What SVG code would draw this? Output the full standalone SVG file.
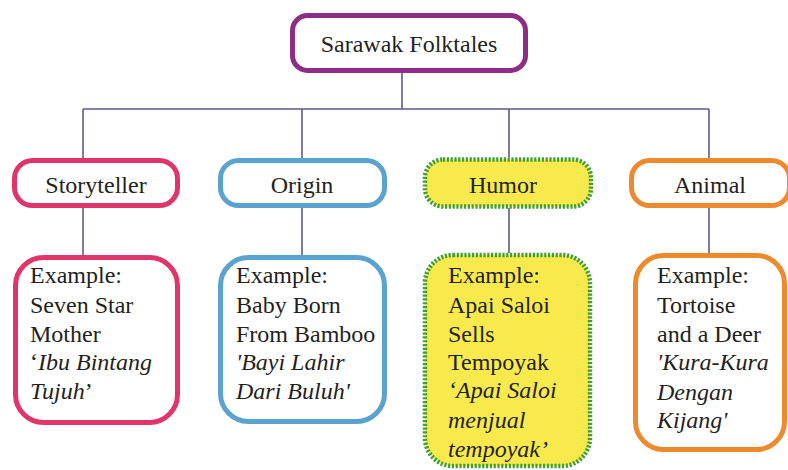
<svg xmlns="http://www.w3.org/2000/svg" width="788" height="470" viewBox="0 0 788 470" font-family="'Liberation Serif', Tinos, 'DejaVu Serif', 'Times New Roman', serif">
<style>
text{font-family:'Liberation Serif',Tinos,'DejaVu Serif','Times New Roman',serif;font-size:24px;fill:#231f20}
.c{text-anchor:middle}
.i{font-style:italic}
.box{fill:#fff;stroke-width:5}
.pink{stroke:#e0356b}
.blue{stroke:#5aa3d0}
.orange{stroke:#ee8a2e}
.humor{fill:#f8ea4c;stroke:#3f9e3a;stroke-width:4.5;stroke-dasharray:2.2 1.6}
.conn{fill:none;stroke:#5e5a8e;stroke-width:1.6}
</style>
<rect width="788" height="470" fill="#fff"/>
<g id="connectors">
<path class="conn" d="M402 72V109M83 109H709M83 109V158M302 109V158M509 109V157M709 109V158M83 208V255M302 208V255M509 208V253M709 208V253"/>
</g>
<g id="root">
<rect x="292.5" y="15.5" width="233" height="55" rx="15" fill="#fff" stroke="#8e2c86" stroke-width="5"/>
<text class="c" x="409" y="52">Sarawak Folktales</text>
</g>
<g id="storyteller">
<rect class="box pink" x="14.5" y="160.5" width="163" height="45" rx="18"/>
<text class="c" x="96" y="193">Storyteller</text>
</g>
<g id="origin">
<rect class="box blue" x="220.5" y="160.5" width="164" height="45" rx="18"/>
<text class="c" x="302" y="193">Origin</text>
</g>
<g id="humor">
<rect class="humor" x="425" y="159.5" width="166" height="47" rx="18"/>
<text class="c" x="503" y="193">Humor</text>
</g>
<g id="animal">
<rect class="box orange" x="631.5" y="160.5" width="158" height="45" rx="18"/>
<text class="c" x="710" y="193">Animal</text>
</g>
<g id="storyteller-example">
<rect class="box pink" x="15.5" y="257.5" width="162" height="165" rx="28"/>
<text x="30" y="283">Example:</text>
<text x="30" y="313">Seven Star</text>
<text x="30" y="342">Mother</text>
<text x="30" y="370">‘<tspan class="i">Ibu Bintang</tspan></text>
<text x="30" y="399"><tspan class="i">Tujuh</tspan>’</text>
</g>
<g id="origin-example">
<rect class="box blue" x="220.5" y="257.5" width="164" height="164" rx="28"/>
<text x="236" y="283">Example:</text>
<text x="236" y="313">Baby Born</text>
<text x="236" y="342">From Bamboo</text>
<text class="i" x="236" y="370">'Bayi Lahir</text>
<text class="i" x="236" y="399">Dari Buluh'</text>
</g>
<g id="humor-example">
<rect class="humor" x="425" y="255" width="165" height="211" rx="28"/>
<text x="448" y="283">Example:</text>
<text x="448" y="313">Apai Saloi</text>
<text x="448" y="342">Sells</text>
<text x="448" y="370">Tempoyak</text>
<text class="i" x="448" y="398">‘Apai Saloi</text>
<text class="i" x="448" y="428">menjual</text>
<text class="i" x="448" y="457">tempoyak’</text>
</g>
<g id="animal-example">
<rect class="box orange" x="635.5" y="255.5" width="149" height="194" rx="28"/>
<text x="657" y="283">Example:</text>
<text x="657" y="313">Tortoise</text>
<text x="657" y="342">and a Deer</text>
<text class="i" x="657" y="370">'Kura-Kura</text>
<text class="i" x="657" y="400">Dengan</text>
<text class="i" x="657" y="428">Kijang'</text>
</g>
</svg>
